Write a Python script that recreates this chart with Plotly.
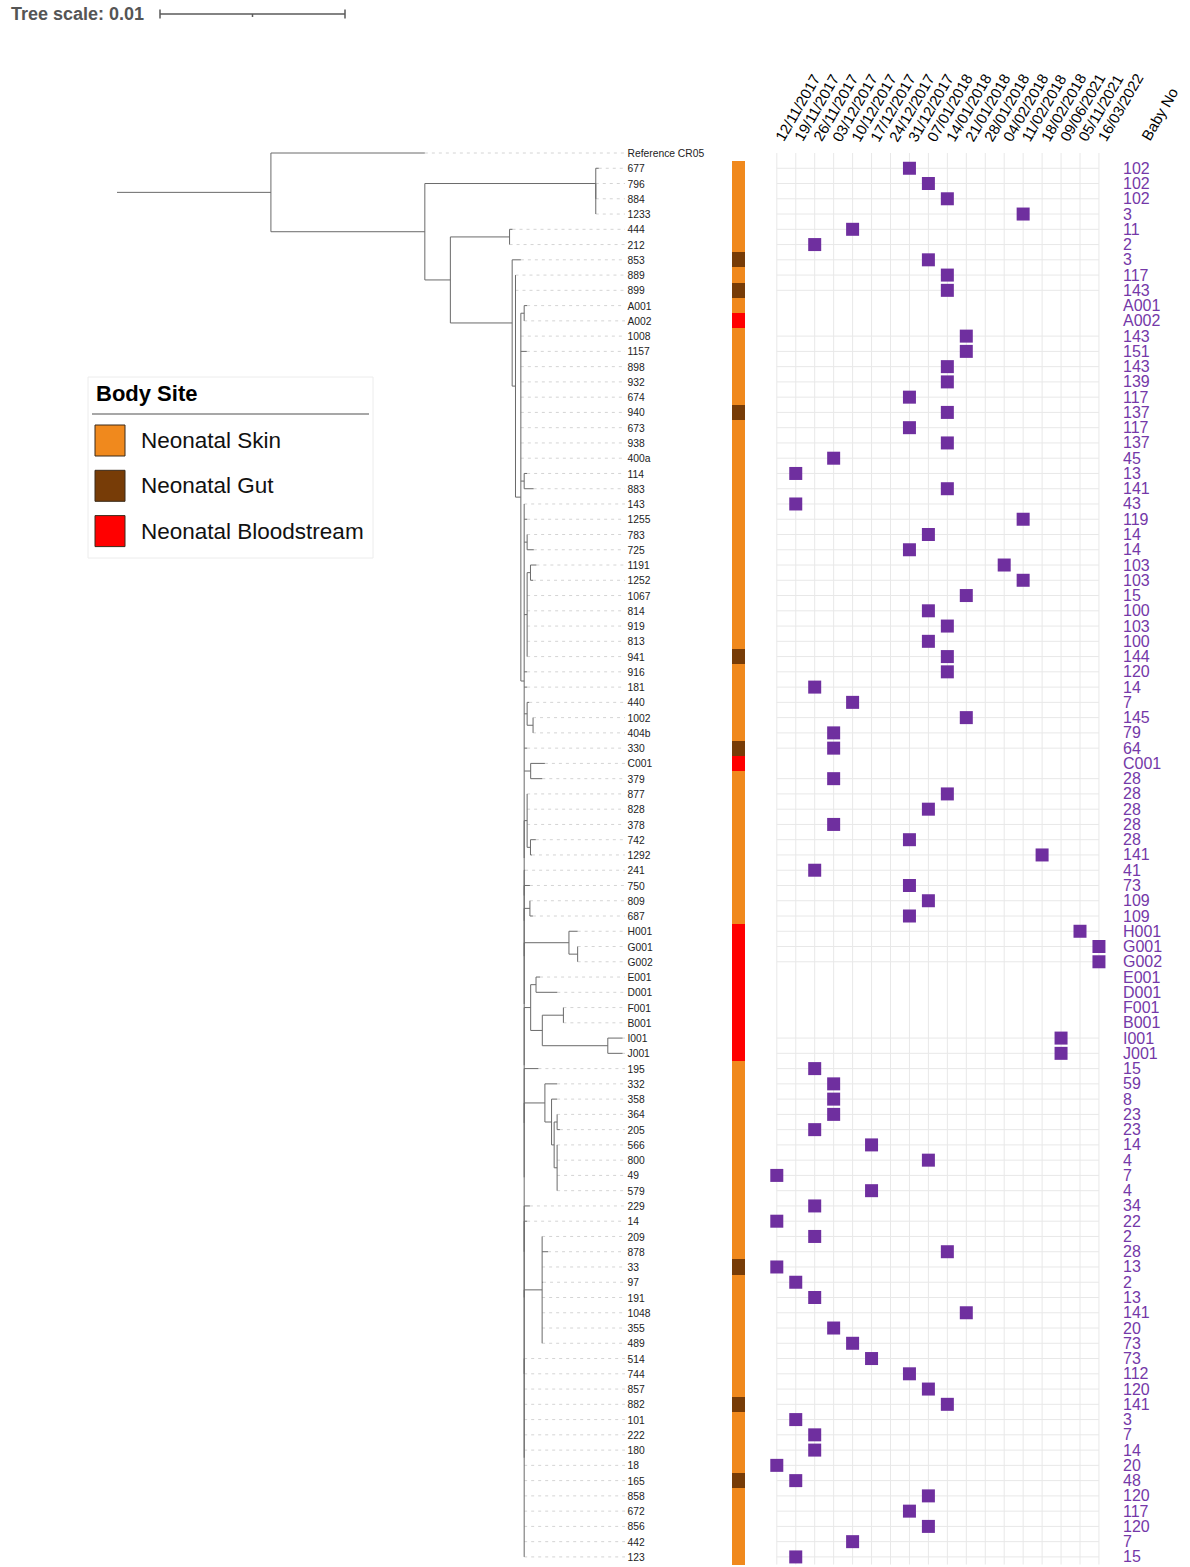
import plotly.graph_objects as go

# ---------------------------------------------------------------- data
leaves = ["Reference CR05", "677", "796", "884", "1233", "444", "212", "853", "889", "899",
          "A001", "A002", "1008", "1157", "898", "932", "674", "940", "673", "938",
          "400a", "114", "883", "143", "1255", "783", "725", "1191", "1252", "1067",
          "814", "919", "813", "941", "916", "181", "440", "1002", "404b", "330",
          "C001", "379", "877", "828", "378", "742", "1292", "241", "750", "809",
          "687", "H001", "G001", "G002", "E001", "D001", "F001", "B001", "I001", "J001",
          "195", "332", "358", "364", "205", "566", "800", "49", "579", "229",
          "14", "209", "878", "33", "97", "191", "1048", "355", "489", "514",
          "744", "857", "882", "101", "222", "180", "18", "165", "858", "672",
          "856", "442", "123"]

site_names = ["Neonatal Skin", "Neonatal Gut", "Neonatal Bloodstream"]
site_colors = ["#F0891D", "#773C07", "#FF0000"]
SK, GU, BL = site_names

body_site = [None, SK, SK, SK, SK, SK, SK, GU, SK, GU,
             SK, BL, SK, SK, SK, SK, SK, GU, SK, SK,
             SK, SK, SK, SK, SK, SK, SK, SK, SK, SK,
             SK, SK, SK, GU, SK, SK, SK, SK, SK, GU,
             BL, SK, SK, SK, SK, SK, SK, SK, SK, SK,
             SK, BL, BL, BL, BL, BL, BL, BL, BL, BL,
             SK, SK, SK, SK, SK, SK, SK, SK, SK, SK,
             SK, SK, SK, GU, SK, SK, SK, SK, SK, SK,
             SK, SK, GU, SK, SK, SK, SK, GU, SK, SK,
             SK, SK, SK]

dates = ["12/11/2017", "19/11/2017", "26/11/2017", "03/12/2017", "10/12/2017",
         "17/12/2017", "24/12/2017", "31/12/2017", "07/01/2018", "14/01/2018",
         "21/01/2018", "28/01/2018", "04/02/2018", "11/02/2018", "18/02/2018",
         "09/06/2021", "05/11/2021", "16/03/2022"]

sample_date = [None, "31/12/2017", "07/01/2018", "14/01/2018", "11/02/2018",
               "10/12/2017", "26/11/2017", "07/01/2018", "14/01/2018", "14/01/2018",
               None, None, "21/01/2018", "21/01/2018", "14/01/2018",
               "14/01/2018", "31/12/2017", "14/01/2018", "31/12/2017", "14/01/2018",
               "03/12/2017", "19/11/2017", "14/01/2018", "19/11/2017", "11/02/2018",
               "07/01/2018", "31/12/2017", "04/02/2018", "11/02/2018", "21/01/2018",
               "07/01/2018", "14/01/2018", "07/01/2018", "14/01/2018", "14/01/2018",
               "26/11/2017", "10/12/2017", "21/01/2018", "03/12/2017", "03/12/2017",
               None, "03/12/2017", "14/01/2018", "07/01/2018", "03/12/2017",
               "31/12/2017", "18/02/2018", "26/11/2017", "31/12/2017", "07/01/2018",
               "31/12/2017", "05/11/2021", "16/03/2022", "16/03/2022", None,
               None, None, None, "09/06/2021", "09/06/2021",
               "26/11/2017", "03/12/2017", "03/12/2017", "03/12/2017", "26/11/2017",
               "17/12/2017", "07/01/2018", "12/11/2017", "17/12/2017", "26/11/2017",
               "12/11/2017", "26/11/2017", "14/01/2018", "12/11/2017", "19/11/2017",
               "26/11/2017", "21/01/2018", "03/12/2017", "10/12/2017", "17/12/2017",
               "31/12/2017", "07/01/2018", "14/01/2018", "19/11/2017", "26/11/2017",
               "26/11/2017", "12/11/2017", "19/11/2017", "07/01/2018", "31/12/2017",
               "07/01/2018", "10/12/2017", "19/11/2017"]

baby_no = [None, "102", "102", "102", "3", "11", "2", "3", "117", "143",
           "A001", "A002", "143", "151", "143", "139", "117", "137", "117", "137",
           "45", "13", "141", "43", "119", "14", "14", "103", "103", "15",
           "100", "103", "100", "144", "120", "14", "7", "145", "79", "64",
           "C001", "28", "28", "28", "28", "28", "141", "41", "73", "109",
           "109", "H001", "G001", "G002", "E001", "D001", "F001", "B001", "I001", "J001",
           "15", "59", "8", "23", "23", "14", "4", "7", "4", "34",
           "22", "2", "28", "13", "2", "13", "141", "20", "73", "73",
           "112", "120", "141", "3", "7", "14", "20", "48", "120", "117",
           "120", "7", "15"]

# Phylogeny (substitutions per site); underscores stand for spaces in names
newick = (
    "(Reference_CR05:0.00832,"
    "((677:0.00016,(796:0,884:0,1233:0):0):0.00924,"
    "((444:0.00016,212:0):0.00320,"
    "(853:0.00047,"
    "(889:0,899:0,"
    "((A001:0.00016,A002:0):0.00018,"
    "1008:0,1157:0.00032,898:0,932:0,674:0,940:0,673:0,938:0,400a:0,"
    "(114:0.00016,883:0.00051):0.00018,"
    "(143:0,1255:0.00016,(783:0,725:0.00036):0.00016,"
    "((1191:0.00032,1252:0.00014):0.00018,1067:0,814:0,919:0,813:0,941:0):0.00016,"
    "916:0.00016,181:0.00016,"
    "(440:0.00011,(1002:0,404b:0):0.00032):0.00016,"
    "330:0.00016,"
    "(C001:0.00077,379:0.00063):0.00035,"
    "((877:0,828:0,378:0,(742:0.00029,1292:0.00008):0.00018):0.00016,"
    "(241:0.00005,"
    "(750:0.00031,"
    "((809:0,687:0.00016):0.00031,"
    "((H001:0.00047,(G001:0,G002:0):0.00047):0.00242,"
    "(((E001:0.00022,D001:0.00115):0.00029,"
    "((F001:0,B001:0):0.00114,(I001:0.00080,J001:0.00080):0.00354):0.00063):0.00035,"
    "(195:0.00077,"
    "((332:0.00066,(358:0.00030,((364:0,205:0.00015):0.00016,"
    "(566:0,800:0,49:0,579:0):0.00016):0.00014):0.00036):0.00112,"
    "(229:0.00031,"
    "(14:0.00016,"
    "((209:0,878:0.00032,33:0,97:0.00005,191:0,1048:0,355:0,489:0):0.00097,"
    "(514:0,744:0,857:0,882:0,101:0,222:0,180:0,18:0,165:0,858:0,672:0,856:0,442:0,123:0):0"
    "):0):0):0):0):0):0):0):0):0):0):0"
    "):0.00018):0.00029):0.00018):0.00334):0.00138):0.00832):0.00832;"
)

# ---------------------------------------------------------------- geometry
W, H = 1190, 1567
ROW0_PX, ROW_PX = 153.0, 15.26          # first leaf row and row pitch
TREE0_PX, PX_PER_UNIT = 117.0, 185 / 0.01
COL0_PX, COL_PX = 776.8, 18.95          # first sampling-date column and pitch
TEXT_DROP = 1.5 / ROW_PX                # baseline nudge for row text
FONT = "Liberation Sans, Arial, sans-serif"


def row_of(py):
    return (py - ROW0_PX) / ROW_PX


def tree_x(px):
    return (px - TREE0_PX) / PX_PER_UNIT


def col_of(px):
    return (px - COL0_PX) / COL_PX


def px_x(px):
    return px / W


def px_y(py):
    return 1 - py / H


# ---------------------------------------------------------------- tree
def parse_newick(text):
    s = "".join(text.split()).rstrip(";")
    pos = 0

    def node():
        nonlocal pos
        n = {"children": [], "name": None, "length": 0.0}
        if s[pos] == "(":
            pos += 1
            while True:
                n["children"].append(node())
                ch = s[pos]
                pos += 1
                if ch == ")":
                    break
        start = pos
        while pos < len(s) and s[pos] not in ":,()":
            pos += 1
        name = s[start:pos]
        n["name"] = name.replace("_", " ") if name else None
        if pos < len(s) and s[pos] == ":":
            pos += 1
            start = pos
            while pos < len(s) and s[pos] not in ",()":
                pos += 1
            n["length"] = float(s[start:pos])
        return n

    return node()


tree = parse_newick(newick)
order = []


def place(n, x_parent):
    n["x"] = x_parent + n["length"]
    if not n["children"]:
        order.append(n["name"])
        n["y"] = leaves.index(n["name"])
    else:
        for c in n["children"]:
            place(c, n["x"])
        n["y"] = (n["children"][0]["y"] + n["children"][-1]["y"]) / 2


place(tree, 0.0)
assert order == leaves

bx, by, tips = [], [], {}


def collect(n, x_parent):
    bx.extend([x_parent, n["x"], None])
    by.extend([n["y"], n["y"], None])
    if n["children"]:
        bx.extend([n["x"], n["x"], None])
        by.extend([n["children"][0]["y"], n["children"][-1]["y"], None])
        for c in n["children"]:
            collect(c, n["x"])
    else:
        tips[n["name"]] = n["x"]


collect(tree, 0.0)

label_x = tree_x(627.5)
lx, ly = [], []
for i, name in enumerate(leaves):
    lx.extend([tips[name], tree_x(625), None])
    ly.extend([i, i, None])

fig = go.Figure()

# dashed leaders from tips to labels
fig.add_trace(go.Scatter(x=lx, y=ly, mode="lines", hoverinfo="skip",
                         line=dict(color="#d4d4d4", width=1, dash="3px,4px")))
# branches
fig.add_trace(go.Scatter(x=bx, y=by, mode="lines", hoverinfo="skip",
                         line=dict(color="#6a6a6a", width=1)))
# leaf labels
fig.add_trace(go.Scatter(x=[label_x] * len(leaves),
                         y=[i + TEXT_DROP for i in range(len(leaves))],
                         mode="text", text=leaves, textposition="middle right",
                         textfont=dict(family=FONT, size=10.3, color="#222222"),
                         hoverinfo="skip"))

# tree scale bar (0.01 substitutions per site)
sb0 = tree_x(160)
sby = row_of(14)
fig.add_trace(go.Scatter(
    x=[sb0, sb0 + 0.01, None, sb0, sb0, None, sb0 + 0.01, sb0 + 0.01, None,
       sb0 + 0.005, sb0 + 0.005],
    y=[sby, sby, None, row_of(9.5), row_of(18.5), None, row_of(9.5), row_of(18.5), None,
       sby, row_of(17)],
    mode="lines", line=dict(color="#5a5a5a", width=1.5), hoverinfo="skip"))

# ---------------------------------------------------------------- body-site strip
strip_rows = [i for i, s in enumerate(body_site) if s]
fig.add_trace(go.Bar(
    x=[13 / COL_PX] * len(strip_rows), y=strip_rows, base=col_of(732),
    orientation="h", width=1.0, xaxis="x2", yaxis="y",
    marker=dict(color=[site_colors[site_names.index(body_site[i])] for i in strip_rows],
                line=dict(width=0)),
    hoverinfo="skip"))

# ---------------------------------------------------------------- sampling-date grid
sq_rows = [i for i, d in enumerate(sample_date) if d]
sq_cols = [dates.index(sample_date[i]) for i in sq_rows]
gx, gy = [], []
last_col = len(dates) - 1
for c in range(len(dates)):
    gx.extend([c, c, None])
    gy.extend([0, len(leaves) - 0.5, None])
for r in sq_rows:
    gx.extend([0, last_col, None])
    gy.extend([r, r, None])
fig.add_trace(go.Scatter(x=gx, y=gy, mode="lines", xaxis="x2", yaxis="y",
                         line=dict(color="#e8e8e8", width=1), hoverinfo="skip"))
fig.add_trace(go.Scatter(x=sq_cols, y=sq_rows, mode="markers", xaxis="x2", yaxis="y",
                         marker=dict(symbol="square", size=13, color="#6F2F9F",
                                     line=dict(width=0)),
                         hoverinfo="skip"))

# baby numbers
bn_rows = [i for i, b in enumerate(baby_no) if b]
fig.add_trace(go.Scatter(x=[col_of(1123)] * len(bn_rows), y=[i + TEXT_DROP for i in bn_rows],
                         mode="text", xaxis="x2", yaxis="y",
                         text=[baby_no[i] for i in bn_rows], textposition="middle right",
                         textfont=dict(family=FONT, size=16, color="#7438A8"),
                         hoverinfo="skip"))

annotations = []
for c, d in enumerate(dates):
    annotations.append(dict(x=c - 0.4, y=row_of(147), xref="x2", yref="y", text=d,
                            textangle=-60, xanchor="left", yanchor="bottom",
                            showarrow=False, font=dict(family=FONT, size=15, color="#000")))
annotations.append(dict(x=col_of(1135.5), y=row_of(146), xref="x2", yref="y", text="Baby No",
                        textangle=-60, xanchor="left", yanchor="bottom",
                        showarrow=False, font=dict(family=FONT, size=15, color="#000")))

annotations.append(dict(x=px_x(9), y=px_y(14), xref="paper", yref="paper",
                        text="<b>Tree scale: 0.01</b>", xanchor="left", yanchor="middle",
                        showarrow=False, font=dict(family=FONT, size=18, color="#555555")))

# ---------------------------------------------------------------- legend
shapes = [dict(type="rect", xref="paper", yref="paper", x0=px_x(88), x1=px_x(373),
               y0=px_y(377), y1=px_y(558), line=dict(color="#ececec", width=1),
               fillcolor="white", layer="below"),
          dict(type="line", xref="paper", yref="paper", x0=px_x(92), x1=px_x(369),
               y0=px_y(414), y1=px_y(414), line=dict(color="#8a8a8a", width=1.5))]
annotations.append(dict(x=px_x(94), y=px_y(394), xref="paper", yref="paper",
                        text="<b>Body Site</b>", xanchor="left", yanchor="middle",
                        showarrow=False, font=dict(family=FONT, size=22, color="#000")))
for k, (name, col) in enumerate(zip(site_names, site_colors)):
    top = 425 + 45.3 * k
    shapes.append(dict(type="rect", xref="paper", yref="paper", x0=px_x(95), x1=px_x(125),
                       y0=px_y(top), y1=px_y(top + 31), fillcolor=col,
                       line=dict(color="#3a2a1a", width=1)))
    annotations.append(dict(x=px_x(139), y=px_y(top + 15.5), xref="paper", yref="paper",
                            text=name, xanchor="left", yanchor="middle", showarrow=False,
                            font=dict(family=FONT, size=22.5, color="#111")))

fig.update_layout(
    width=W, height=H, margin=dict(l=0, r=0, t=0, b=0),
    paper_bgcolor="white", plot_bgcolor="white", showlegend=False,
    xaxis=dict(domain=[0, 1], range=[tree_x(0), tree_x(W)], visible=False, fixedrange=True),
    xaxis2=dict(domain=[0, 1], range=[col_of(0), col_of(W)], overlaying="x", anchor="y",
                visible=False, fixedrange=True),
    yaxis=dict(range=[row_of(H), row_of(0)], visible=False, fixedrange=True),
    shapes=shapes, annotations=annotations, bargap=0,
)

fig.write_html("out.html")
